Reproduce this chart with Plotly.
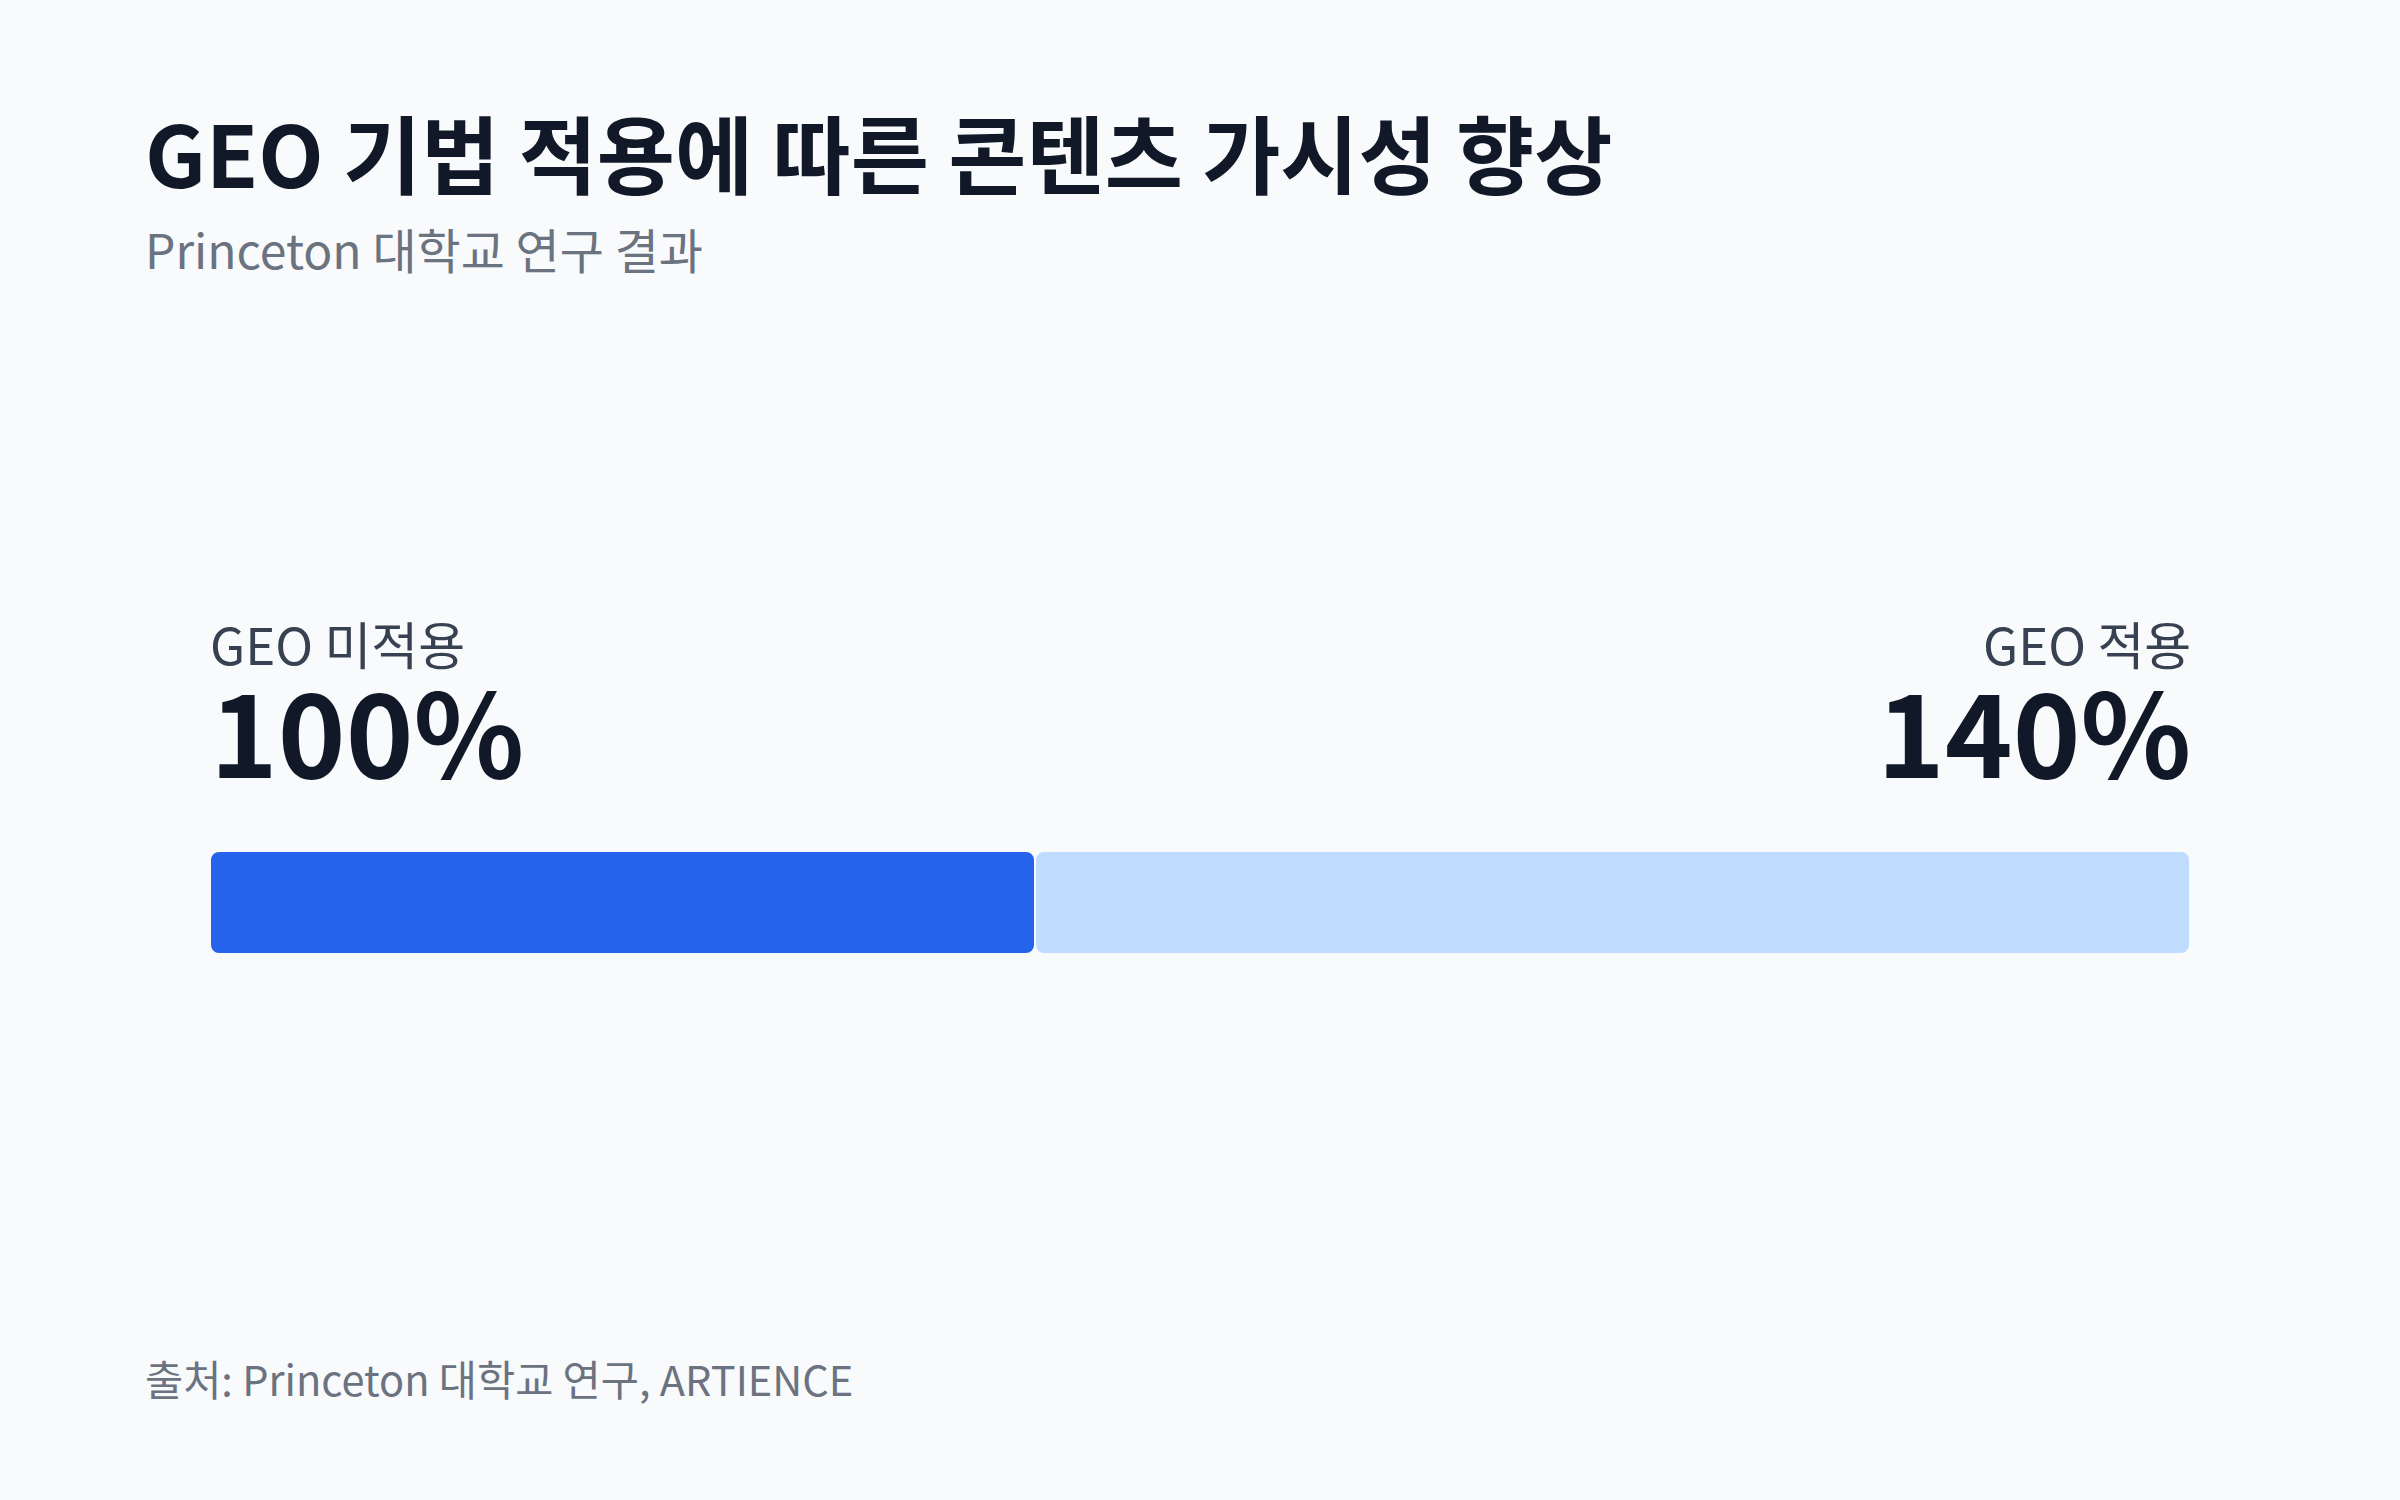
# GEO 적용 전후 콘텐츠 가시성 비교 - 누적 가로 막대
import numpy as np
import plotly.graph_objects as go

W, H = 2400, 1500

title = "GEO 기법 적용에 따른 콘텐츠 가시성 향상"
subtitle = "Princeton 대학교 연구 결과"
source = "출처: Princeton 대학교 연구, ARTIENCE"

labels = ["GEO 미적용", "GEO 적용"]
values = [100, 140]
value_text = ["100%", "140%"]
colors = ["#2563eb", "#bfdbfe"]

bg = "#f8fafc"
font = "Noto Sans CJK KR"

# plot area in pixels (bar track)
left, right = 210, 2190
top, bottom = 851, 954

def px_x(p):
    return (p - left) / (right - left)

def px_y(p):
    return (bottom - p) / (bottom - top)

total = sum(values)
starts = np.cumsum([0] + values[:-1])

fig = go.Figure()
# overlay bars with an explicit base get all four corners rounded
for s, v, c, lab in zip(starts, values, colors, labels):
    fig.add_trace(go.Bar(
        y=[0], x=[v], base=[s], orientation="h", width=1,
        marker=dict(color=c, cornerradius=9, line=dict(width=2, color=bg)),
        name=lab, hoverinfo="skip", showlegend=False,
    ))

ann = []
ann.append(dict(text="<b>" + title + "</b>", xref="paper", yref="paper",
                x=px_x(143), y=px_y(150), xanchor="left", yanchor="middle",
                showarrow=False, font=dict(size=85, color="#111827", family=font)))
ann.append(dict(text=subtitle, xref="paper", yref="paper",
                x=px_x(143), y=px_y(248), xanchor="left", yanchor="middle",
                showarrow=False, font=dict(size=48, color="#6b7280", family=font)))
ann.append(dict(text=source, xref="paper", yref="paper",
                x=px_x(143), y=px_y(1378), xanchor="left", yanchor="middle",
                showarrow=False, font=dict(size=41.5, color="#6b7280", family=font)))

ends = starts + np.array(values)
anchors = [(starts[0], "left", -2), (ends[-1], "right", 3)]
for (xv, xa, dx), lab, vt in zip(anchors, labels, value_text):
    ann.append(dict(text=lab, xref="x", yref="paper", x=xv, y=px_y(643),
                    xanchor=xa, yanchor="middle", xshift=dx, showarrow=False,
                    font=dict(size=51, color="#374151", family=font)))
    ann.append(dict(text="<b>" + vt + "</b>", xref="x", yref="paper", x=xv, y=px_y(728),
                    xanchor=xa, yanchor="middle", xshift=dx, showarrow=False,
                    font=dict(size=115, color="#111827", family=font)))

fig.update_layout(
    width=W, height=H,
    barmode="overlay",
    paper_bgcolor=bg, plot_bgcolor=bg,
    margin=dict(l=left, r=W - right, t=top, b=H - bottom, pad=0),
    xaxis=dict(range=[0, total], visible=False, fixedrange=True),
    yaxis=dict(range=[-0.5, 0.5], visible=False, fixedrange=True),
    annotations=ann,
    showlegend=False,
    font=dict(family=font),
)

page_css = ("document.body.style.margin='0';"
            "document.body.style.background='" + bg + "';"
            "document.documentElement.style.overflow='hidden';")
fig.write_html("out.html", post_script=page_css, config={"displayModeBar": False})
